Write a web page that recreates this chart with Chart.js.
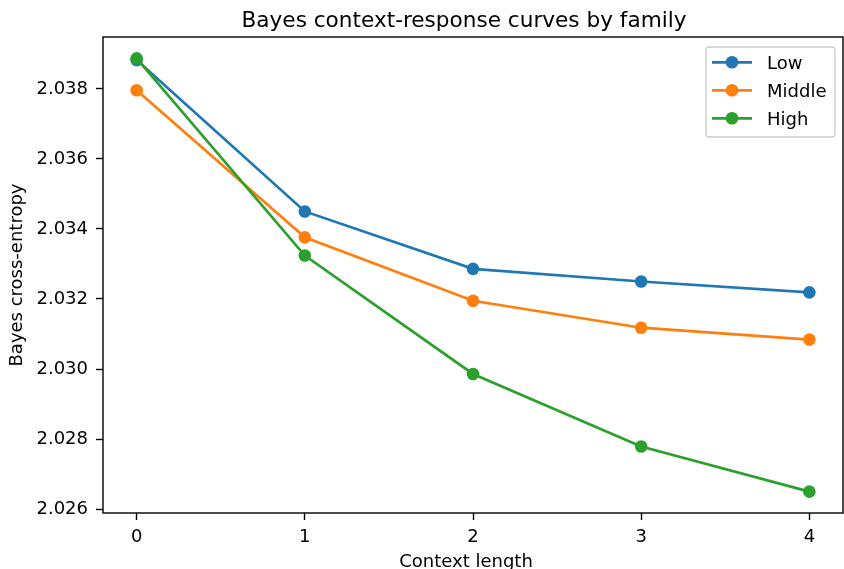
<!DOCTYPE html>
<html>
<head>
<meta charset="utf-8">
<script src="https://cdn.jsdelivr.net/npm/chart.js@4"></script>
<style>
  body { margin: 0; background: #fff; }
  #wrap { width: 844px; height: 569px; position: relative; }
</style>
</head>
<body>
<div id="wrap"><canvas id="line-chart"></canvas></div>
<script>
const contextLengths = [0, 1, 2, 3, 4];
const lowValues = [2.03882, 2.03450, 2.03286, 2.03250, 2.03219];
const middleValues = [2.03796, 2.03376, 2.03195, 2.03118, 2.03084];
const highValues = [2.03887, 2.03324, 2.02986, 2.02779, 2.02650];
const yTicks = [2.026, 2.028, 2.030, 2.032, 2.034, 2.036, 2.038];
const xTicks = [0, 1, 2, 3, 4];
const familyNames = ["Low", "Middle", "High"];
const familyColors = ["#1f77b4", "#ff7f0e", "#2ca02c"];

const FONT = "'DejaVu Sans', sans-serif";

function toPoints(vals) {
  return vals.map((v, i) => ({ x: contextLengths[i], y: v }));
}

// title, x label, frame and legend box drawn on top
const extras = {
  id: "extras",
  afterDraw(chart) {
    const ctx = chart.ctx;
    const a = chart.chartArea;
    ctx.save();
    ctx.fillStyle = "#000";
    ctx.textAlign = "center";
    ctx.textBaseline = "alphabetic";
    ctx.font = "21.6px " + FONT;
    ctx.fillText("Bayes context-response curves by family", 464, 27);
    ctx.font = "18px " + FONT;
    ctx.fillText("Context length", 466, 567);

    ctx.strokeStyle = "#000";
    ctx.lineWidth = 1.4;
    ctx.strokeRect(a.left, a.top, a.right - a.left, a.bottom - a.top);

    // legend
    const bx = 706, by = 47, bw = 129, bh = 90;
    ctx.beginPath();
    ctx.roundRect(bx, by, bw, bh, 3);
    ctx.fillStyle = "rgba(255,255,255,0.8)";
    ctx.fill();
    ctx.strokeStyle = "#cccccc";
    ctx.lineWidth = 1.4;
    ctx.stroke();
    chart.data.datasets.forEach((ds, i) => {
      const y = 62.3 + i * 28;
      ctx.strokeStyle = ds.borderColor;
      ctx.lineWidth = 2.7;
      ctx.beginPath();
      ctx.moveTo(712, y);
      ctx.lineTo(752, y);
      ctx.stroke();
      ctx.fillStyle = ds.backgroundColor;
      ctx.beginPath();
      ctx.arc(732, y, 6.3, 0, Math.PI * 2);
      ctx.fill();
      ctx.fillStyle = "#000";
      ctx.textAlign = "left";
      ctx.font = "18px " + FONT;
      ctx.fillText(ds.label, 767, y + 6.6);
    });
    ctx.restore();
  }
};

const series = [lowValues, middleValues, highValues];

const lctx = document.getElementById("line-chart").getContext("2d");
new Chart(lctx, {
  type: "line",
  data: {
    datasets: series.map((vals, i) => ({
      label: familyNames[i],
      data: toPoints(vals),
      borderColor: familyColors[i],
      backgroundColor: familyColors[i],
      borderWidth: 2.7,
      pointRadius: 6.3,
      pointHoverRadius: 6.3,
      pointBorderWidth: 0,
      tension: 0,
      order: 2 - i
    }))
  },
  options: {
    responsive: true,
    maintainAspectRatio: false,
    animation: false,
    layout: { autoPadding: false, padding: { top: 37, right: 1, bottom: 0, left: 0 } },
    plugins: {
      legend: { display: false },
      title: { display: false },
      tooltip: { enabled: false }
    },
    scales: {
      x: {
        type: "linear",
        min: -0.2,
        max: 4.2,
        afterFit: s => { s.height = 56; },
        afterBuildTicks: s => { s.ticks = xTicks.map(v => ({ value: v })); },
        grid: { drawOnChartArea: false, drawTicks: true, tickLength: 7, tickWidth: 1.4, tickColor: "#000" },
        border: { display: false },
        ticks: { color: "#000", font: { family: FONT, size: 18 }, padding: 7, maxRotation: 0 }
      },
      y: {
        min: 2.02589,
        max: 2.03948,
        afterFit: s => { s.width = 103; },
        afterBuildTicks: s => { s.ticks = yTicks.map(v => ({ value: v })); },
        grid: { drawOnChartArea: false, drawTicks: true, tickLength: 7, tickWidth: 1.4, tickColor: "#000" },
        border: { display: false },
        ticks: {
          color: "#000",
          font: { family: FONT, size: 18 },
          padding: 8,
          callback: v => v.toFixed(3)
        },
        title: {
          display: true,
          text: "Bayes cross-entropy",
          color: "#000",
          font: { family: FONT, size: 18 },
          padding: { top: 7 }
        }
      }
    }
  },
  plugins: [extras]
});
</script>
</body>
</html>
